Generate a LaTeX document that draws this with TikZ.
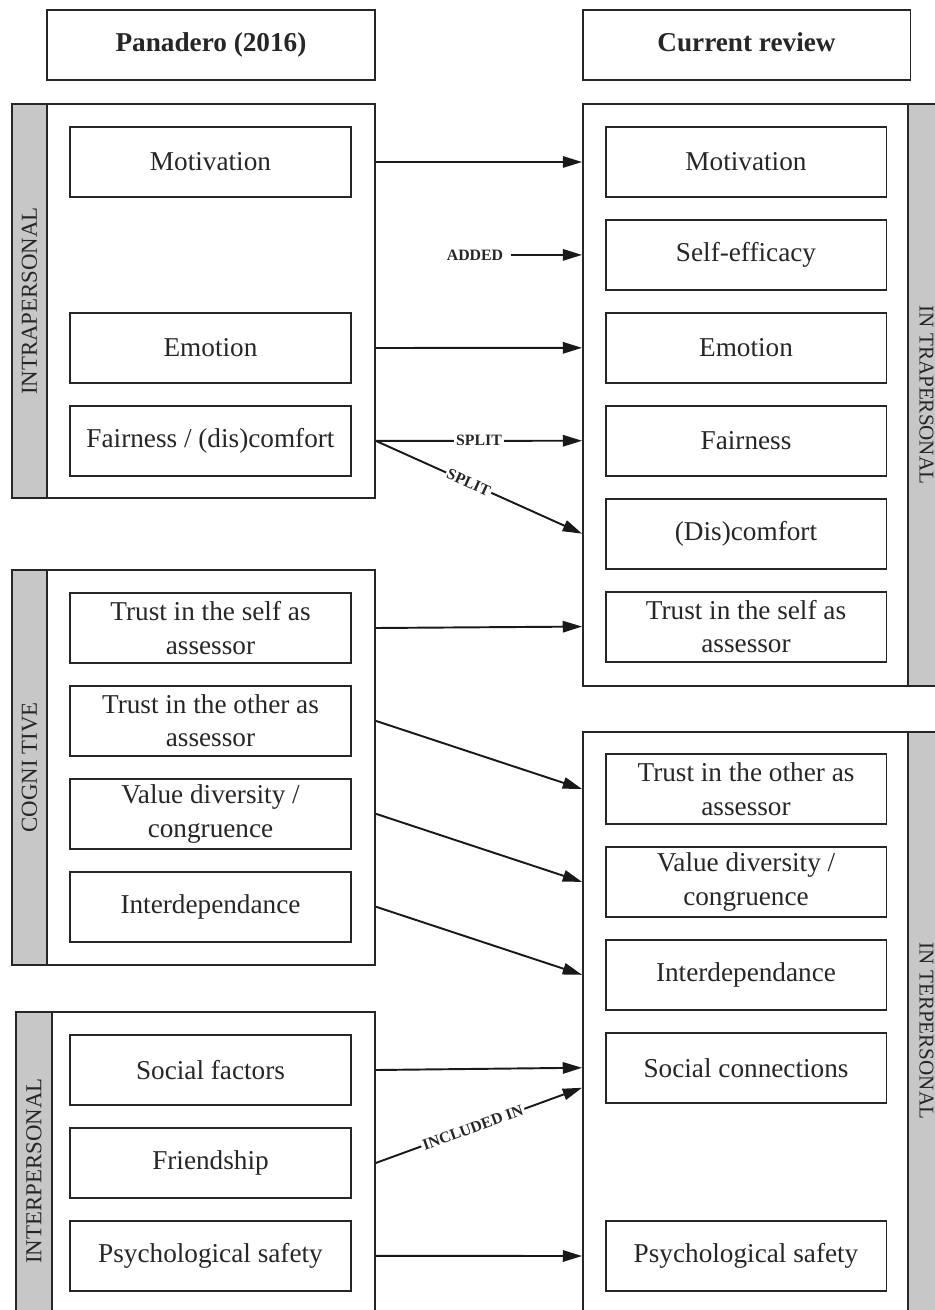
\documentclass[tikz,border=0pt]{standalone}
\usepackage{fontspec}
\setmainfont{Liberation Serif}
\usetikzlibrary{positioning,arrows.meta}

\begin{document}
\begin{tikzpicture}[x=0.02cm,y=-0.02cm,node distance=0.42cm,
  >={Triangle[length=11pt,width=6.5pt]},
  item/.style={draw=black!85,line width=1.1pt,minimum width=5.62cm,minimum height=1.4cm,
    align=center,inner sep=1pt,text=black!85,font=\fontsize{15.5}{19}\selectfont},
  head/.style={item,minimum width=6.56cm,text height=11pt,text depth=3.5pt,
    font=\fontsize{15.5}{19}\selectfont\bfseries},
  group/.style={draw=black!85,line width=1.1pt},
  strip/.style={draw=black!85,fill=black!22,line width=1.1pt,inner sep=0pt,text=black!85,
    font=\fontsize{13}{14}\selectfont},
  link/.style={->,draw=black!90,line width=1.1pt},
  tag/.style={font=\fontsize{9}{10}\selectfont\bfseries,text=black!85,fill=white,inner sep=1pt}]
  \clip (0,0) rectangle (935,1310);

  % headers
  \node[head] (hleft) at (211,45) {Panadero (2016)};
  \node[head] (hright) at (746.5,45) {Current review};

  % Panadero (2016)
  \node[group,minimum width=7.26cm,minimum height=7.88cm] (lintra) at (193.5,301) {};
  \node[strip,rotate=90,minimum width=7.88cm,minimum height=0.7cm] at (29.5,301) {INTRAPERSONAL};
  \node[item] (lmot) at (210.5,162) {Motivation};
  \node[item] (lemo) at (210.5,348) {Emotion};
  \node[item,below=of lemo] (lfair) {Fairness / (dis)comfort};

  \node[group,minimum width=7.26cm,minimum height=7.9cm] (lcog) at (193.5,767.5) {};
  \node[strip,rotate=90,minimum width=7.9cm,minimum height=0.7cm] at (29.5,767.5) {COGNI TIVE};
  \node[item] (lself) at (210.5,628) {Trust in the self as\\assessor};
  \node[item,below=of lself] (lother) {Trust in the other as\\assessor};
  \node[item,below=of lother] (lvalue) {Value diversity /\\congruence};
  \node[item,below=of lvalue] (linter) {Interdependance};

  \node[group,minimum width=7.18cm,minimum height=6.36cm] (linterp) at (195.5,1171) {};
  \node[strip,rotate=90,minimum width=6.36cm,minimum height=0.72cm] at (34,1171) {INTERPERSONAL};
  \node[item] (lsoc) at (210.5,1070) {Social factors};
  \node[item,below=of lsoc] (lfriend) {Friendship};
  \node[item,below=of lfriend] (lpsy) {Psychological safety};

  % current review
  \node[group,minimum width=7.24cm,minimum height=11.64cm] (rintra) at (764,395) {};
  \node[strip,rotate=-90,minimum width=11.64cm,minimum height=0.74cm,
    font=\fontsize{12}{13}\selectfont] at (926.5,395) {IN TRAPERSONAL};
  \node[item] (rmot) at (746,162) {Motivation};
  \node[item,below=of rmot] (rself) {Self-efficacy};
  \node[item,below=of rself] (remo) {Emotion};
  \node[item,below=of remo] (rfair) {Fairness};
  \node[item,below=of rfair] (rdis) {(Dis)comfort};
  \node[item,below=of rdis] (rtrust) {Trust in the self as\\assessor};

  \node[group,minimum width=7.24cm,minimum height=11.96cm] (rinter) at (764,1031) {};
  \node[strip,rotate=-90,minimum width=11.96cm,minimum height=0.74cm,
    font=\fontsize{12}{13}\selectfont] at (926.5,1031) {IN TERPERSONAL};
  \node[item] (rother) at (746,789) {Trust in the other as\\assessor};
  \node[item,below=of rother] (rvalue) {Value diversity /\\congruence};
  \node[item,below=of rvalue] (rinterdep) {Interdependance};
  \node[item,below=of rinterdep] (rsoc) {Social connections};
  \node[item] (rpsy) at (746,1256) {Psychological safety};

  % links
  \node[tag] (added) at (475,0 |- rself) {ADDED};
  \coordinate (incl) at ([yshift=-0.4cm]rsoc.west);
  \draw[link] (lmot.east -| lintra.east) -- (rmot.west -| rintra.west);
  \draw[link] ([xshift=3pt]added.east) -- (rself.west -| rintra.west);
  \draw[link] (lemo.east -| lintra.east) -- (remo.west -| rintra.west);
  \draw[link] (lfair.east -| lintra.east) -- node[tag] {SPLIT} (rfair.west -| rintra.west);
  \draw[link] (lfair.east -| lintra.east) -- node[tag,sloped,pos=0.45] {SPLIT} (rdis.west -| rintra.west);
  \draw[link] (lself.east -| lcog.east) -- (rtrust.west -| rintra.west);
  \draw[link] (lother.east -| lcog.east) -- (rother.west -| rinter.west);
  \draw[link] (lvalue.east -| lcog.east) -- (rvalue.west -| rinter.west);
  \draw[link] (linter.east -| lcog.east) -- (rinterdep.west -| rinter.west);
  \draw[link] (lsoc.east -| linterp.east) -- (rsoc.west -| rinter.west);
  \draw[link] (lfriend.east -| linterp.east) -- node[tag,sloped,pos=0.47] {INCLUDED IN} (incl -| rinter.west);
  \draw[link] (lpsy.east -| linterp.east) -- (rpsy.west -| rinter.west);
\end{tikzpicture}
\end{document}
